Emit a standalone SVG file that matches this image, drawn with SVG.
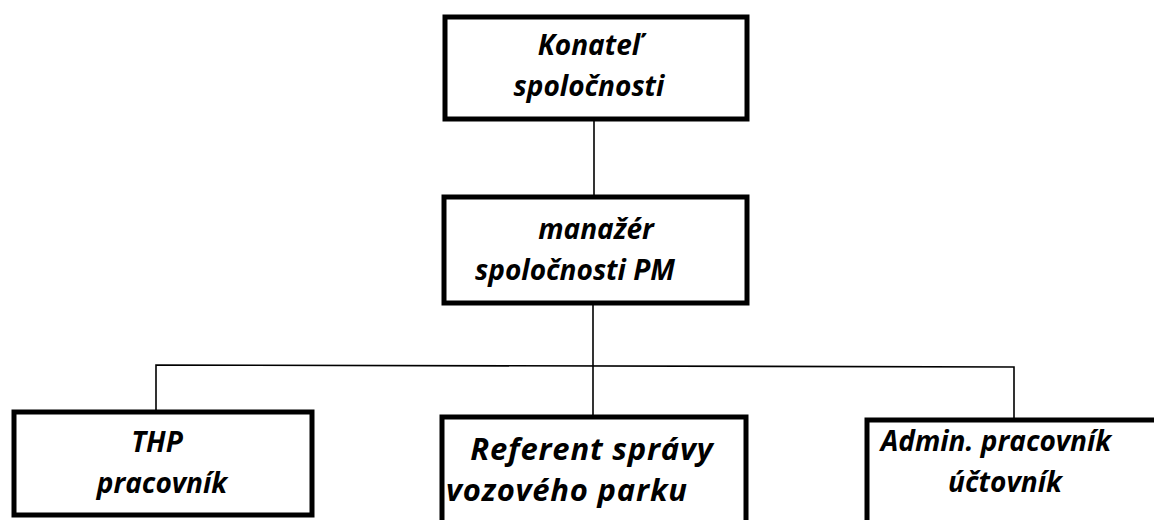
<svg xmlns="http://www.w3.org/2000/svg" width="1154" height="520" viewBox="0 0 1154 520">
<style>
.box{fill:#fff;stroke:#000;stroke-width:5}
.t{font-family:"Open Sans","Noto Sans","DejaVu Sans",sans-serif;font-weight:700;font-style:italic;font-size:28px;fill:#000;text-anchor:middle}
.big{font-size:31px;letter-spacing:0.8px}
.c{fill:none;stroke:#000;stroke-width:1.6}
</style>
<rect width="1154" height="520" fill="#fff"/>
<g id="connectors">
<line class="c" x1="594" y1="119" x2="594" y2="197"/>
<line class="c" x1="593" y1="303" x2="593" y2="417"/>
<polyline class="c" points="156,412 156,365 1014,367 1014,420"/>
</g>
<g id="konatel">
<rect class="box" x="445" y="17" width="302" height="102"/>
<text class="t" x="590" y="55">Konateľ</text>
<text class="t" x="589" y="96">spoločnosti</text>
</g>
<g id="manazer">
<rect class="box" x="444" y="197" width="303" height="106"/>
<text class="t" x="596" y="239">manažér</text>
<text class="t" x="575" y="280">spoločnosti PM</text>
</g>
<g id="thp">
<rect class="box" x="14" y="412" width="298" height="103"/>
<text class="t" x="157" y="452">THP</text>
<text class="t" x="162" y="493">pracovník</text>
</g>
<g id="referent">
<rect class="box" x="442" y="417" width="304" height="120"/>
<text class="t big" x="592" y="460">Referent správy</text>
<text class="t big" x="567" y="501">vozového parku</text>
</g>
<g id="admin">
<rect class="box" x="867" y="420" width="300" height="120"/>
<text class="t" x="996" y="451">Admin. pracovník</text>
<text class="t" x="1005" y="492">účtovník</text>
</g>
</svg>
